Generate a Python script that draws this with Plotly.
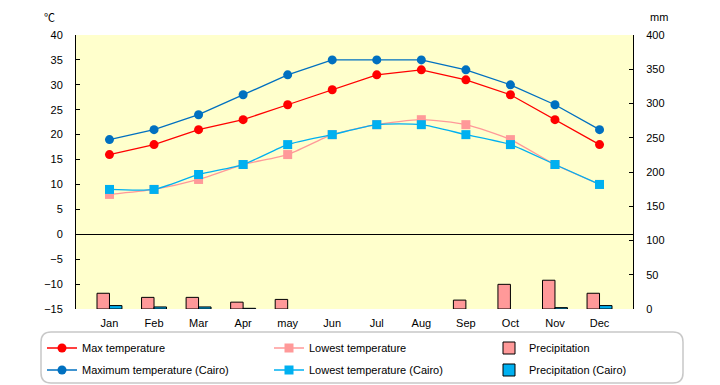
import plotly.graph_objects as go

months = ["Jan", "Feb", "Mar", "Apr", "may", "Jun", "Jul", "Aug", "Sep", "Oct", "Nov", "Dec"]
max_temp = [16, 18, 21, 23, 26, 29, 32, 33, 31, 28, 23, 18]
low_temp = [8, 9, 11, 14, 16, 20, 22, 23, 22, 19, 14, 10]
precip = [23, 17, 17, 10, 14, 0, 0, 0, 13, 36, 42, 23]
max_cairo = [19, 21, 24, 28, 32, 35, 35, 35, 33, 30, 26, 21]
low_cairo = [9, 9, 12, 14, 18, 20, 22, 22, 20, 18, 14, 10]
precip_cairo = [5, 3, 3, 1, 0, 0, 0, 0, 0, 0, 2, 5]

FONT = "Liberation Sans"
fig = go.Figure()

fig.add_trace(go.Bar(x=months, y=precip, name="Precipitation", yaxis="y2",
                     marker=dict(color="#FF9999",
                                 line=dict(color="black", width=[1 if v > 0 else 0 for v in precip])),
                     legend="legend3", showlegend=True))
fig.add_trace(go.Bar(x=months, y=precip_cairo, name="Precipitation (Cairo)", yaxis="y2",
                     marker=dict(color="#00B0F0",
                                 line=dict(color="black", width=[1 if v > 0 else 0 for v in precip_cairo])),
                     legend="legend6", showlegend=True))

fig.add_trace(go.Scatter(x=months, y=low_temp, name="Lowest temperature", mode="lines+markers",
                         line=dict(color="#FF9999", width=1.3, shape="spline", smoothing=0.6),
                         marker=dict(symbol="square", size=9, color="#FF9999"),
                         legend="legend2", showlegend=True))
fig.add_trace(go.Scatter(x=months, y=low_cairo, name="Lowest temperature (Cairo)", mode="lines+markers",
                         line=dict(color="#00B0F0", width=1.3, shape="spline", smoothing=0.6),
                         marker=dict(symbol="square", size=9, color="#00B0F0"),
                         legend="legend5", showlegend=True))
fig.add_trace(go.Scatter(x=months, y=max_temp, name="Max temperature", mode="lines+markers",
                         line=dict(color="#FF0000", width=1.3),
                         marker=dict(symbol="circle", size=9, color="#FF0000"),
                         legend="legend", showlegend=True))
fig.add_trace(go.Scatter(x=months, y=max_cairo, name="Maximum temperature (Cairo)", mode="lines+markers",
                         line=dict(color="#0070C0", width=1.3),
                         marker=dict(symbol="circle", size=9, color="#0070C0"),
                         legend="legend4", showlegend=True))

L, T, W, H = 76, 35, 557, 274


def px(x):
    return (x - L) / W


def py(y):
    return (T + H - y) / H


# rounded legend box
x0, x1 = px(41), px(683)
yt, yb = py(332), py(383)
rx, ry = 10 / W, 10 / H
path = (f"M {x0+rx},{yt} L {x1-rx},{yt} Q {x1},{yt} {x1},{yt-ry} L {x1},{yb+ry} "
        f"Q {x1},{yb} {x1-rx},{yb} L {x0+rx},{yb} Q {x0},{yb} {x0},{yb+ry} "
        f"L {x0},{yt-ry} Q {x0},{yt} {x0+rx},{yt} Z")

leg_common = dict(orientation="v", xanchor="left", yanchor="middle",
                  font=dict(family=FONT, size=11, color="black"),
                  bgcolor="rgba(0,0,0,0)", itemwidth=30, visible=True)

col_x = [42, 269, 489]
row_y = [348, 370]

fig.update_layout(
    width=720, height=385, showlegend=True,
    margin=dict(l=L, r=720 - L - W, t=T, b=385 - T - H, autoexpand=False),
    paper_bgcolor="white", plot_bgcolor="#FFFFCC",
    font=dict(family=FONT, size=11, color="black"),
    barmode="group", bargap=0.44, bargroupgap=0,
    xaxis=dict(showgrid=False, showline=False, ticks="", tickfont=dict(size=11),
               ticklabelstandoff=6),
    yaxis=dict(range=[-15, 40], dtick=5, showgrid=False, showline=True, linecolor="black",
               linewidth=1, ticks="inside", ticklen=4, tickcolor="black",
               zeroline=True, zerolinecolor="black", zerolinewidth=1, tickfont=dict(size=11),
               ticklabelstandoff=10),
    yaxis2=dict(range=[0, 400], dtick=50, overlaying="y", side="right", showgrid=False,
                showline=True, linecolor="black", linewidth=1, ticks="inside", ticklen=4,
                tickcolor="black", zeroline=False, tickfont=dict(size=11),
                ticklabelstandoff=10),
    legend=dict(x=px(col_x[0]), y=py(row_y[0]), **leg_common),
    legend2=dict(x=px(col_x[1]), y=py(row_y[0]), **leg_common),
    legend3=dict(x=px(col_x[2]), y=py(row_y[0]), **leg_common),
    legend4=dict(x=px(col_x[0]), y=py(row_y[1]), **leg_common),
    legend5=dict(x=px(col_x[1]), y=py(row_y[1]), **leg_common),
    legend6=dict(x=px(col_x[2]), y=py(row_y[1]), **leg_common),
    shapes=[dict(type="path", path=path, xref="paper", yref="paper",
                 line=dict(color="#C8C8C8", width=1.5), fillcolor="rgba(0,0,0,0)", layer="below")],
    annotations=[
        dict(text="℃", x=px(49), y=py(17), xref="paper", yref="paper", yanchor="middle",
             xanchor="center", showarrow=False, font=dict(family="Noto Sans CJK JP", size=11)),
        dict(text="mm", x=px(659), y=py(17), xref="paper", yref="paper", yanchor="middle",
             xanchor="center", showarrow=False, font=dict(size=11)),
    ],
)

fig.write_html("out.html", post_script="document.body.style.margin='0';",
               config={"displayModeBar": False})
